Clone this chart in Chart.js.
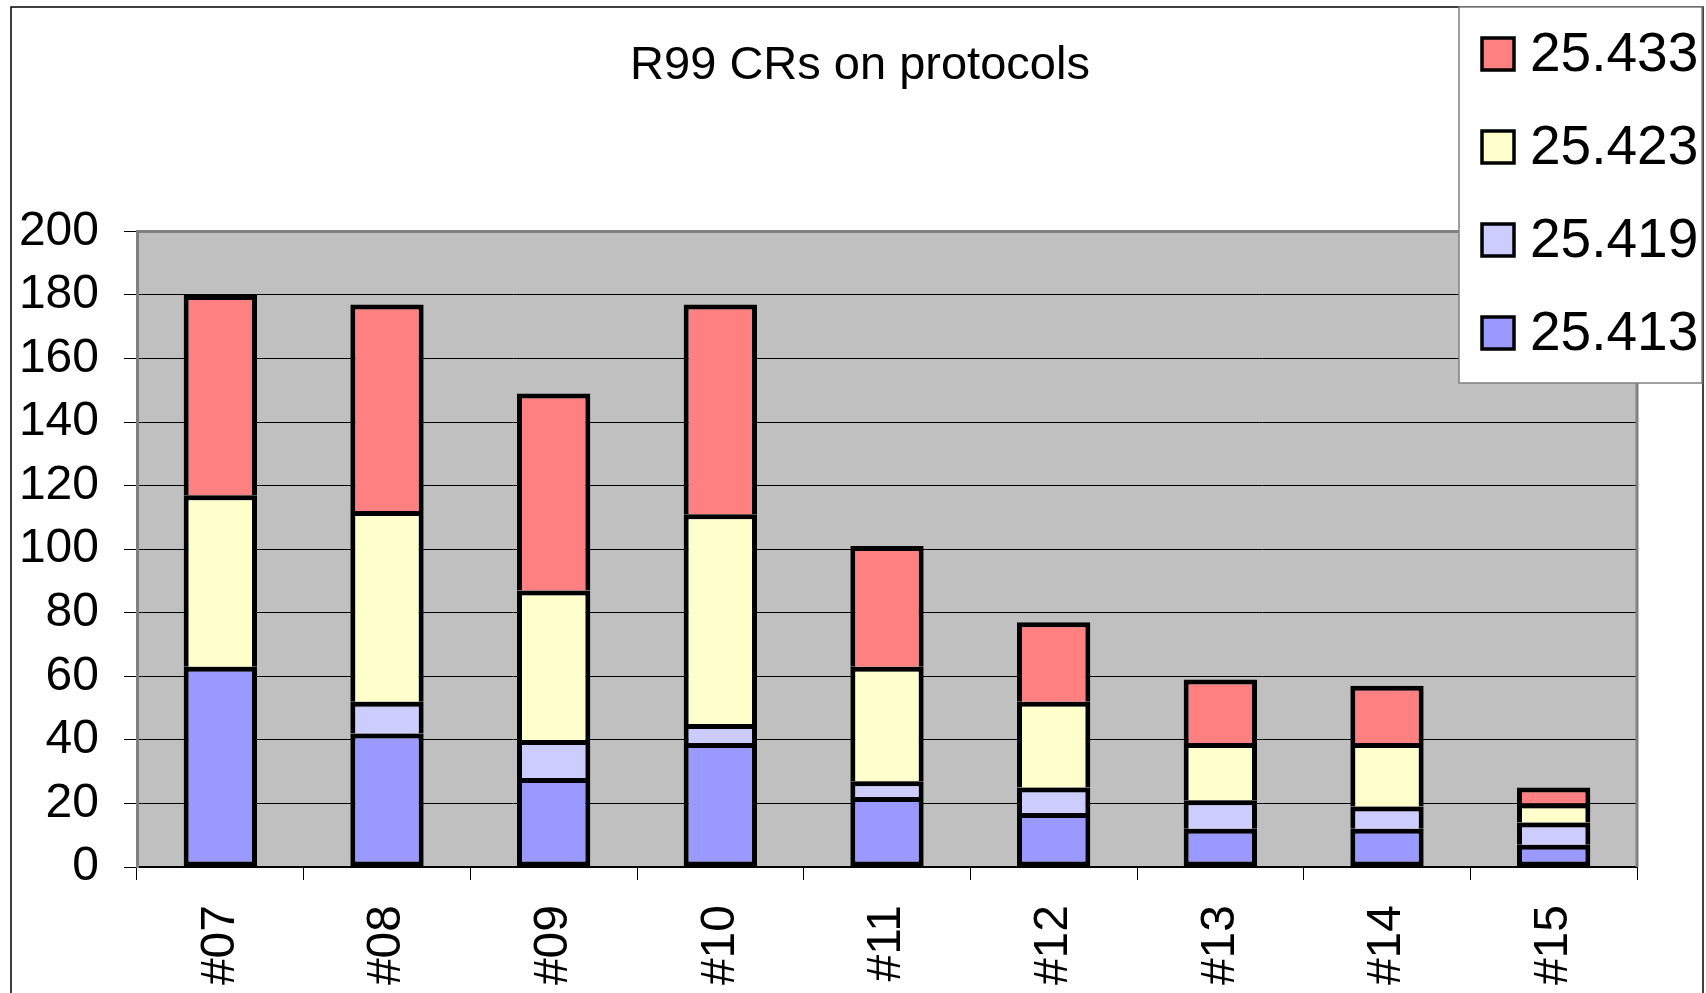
<!DOCTYPE html>
<html>
<head>
  <title>R99 CRs on protocols</title>
  <script src="https://cdn.jsdelivr.net/npm/chart.js@4"></script>
  <style>
    html, body { margin: 0; padding: 0; background: #fff; }
    #wrap { width: 1706px; height: 993px; position: relative; }
  </style>
</head>
<body>
<div id="wrap"><canvas id="chart"></canvas></div>
<script>
  // meetings on the x axis
  const meetings = ['#07', '#08', '#09', '#10', '#11', '#12', '#13', '#14', '#15'];
  // CR counts per spec, bottom of the stack first
  const cr_25413 = [63, 42, 28, 39, 22, 17, 12, 12, 7];
  const cr_25419 = [0, 10, 12, 6, 5, 8, 9, 7, 7];
  const cr_25423 = [54, 60, 47, 66, 36, 27, 18, 20, 6];
  const cr_25433 = [63, 65, 62, 66, 38, 25, 20, 18, 5];
  const yTicks = [0, 20, 40, 60, 80, 100, 120, 140, 160, 180, 200];

  Chart.defaults.font.family = "'Liberation Sans', Arial, sans-serif";
  Chart.defaults.color = '#000';

  const make_dataset = (label, data, color, skip) => ({
    label, data,
    backgroundColor: color,
    borderColor: '#000',
    borderWidth: 5,
    borderSkipped: skip,
    barPercentage: 0.44,
    categoryPercentage: 1.0,
  });

  // white page frame, grey plot area
  const frame = {
    id: 'frame',
    beforeDraw(chart){
      const {ctx, chartArea: a} = chart;
      ctx.save();
      ctx.fillStyle = '#fff';
      ctx.fillRect(0, 0, chart.width, chart.height);
      ctx.strokeStyle = '#000';
      ctx.lineWidth = 1.5;
      ctx.strokeRect(11, 7, 1692, 1000);
      ctx.fillStyle = '#c0c0c0';
      ctx.fillRect(a.left, a.top, a.right - a.left, a.bottom - a.top);
      ctx.restore();
    },
    afterDraw(chart){
      const {ctx, chartArea: a} = chart;
      ctx.save();
      // top and right edge of plot area
      ctx.strokeStyle = '#808080';
      ctx.lineWidth = 3;
      ctx.beginPath();
      ctx.moveTo(a.left, a.top);
      ctx.lineTo(a.right, a.top);
      ctx.lineTo(a.right, a.bottom);
      ctx.stroke();

      // legend box, top item = top of stack
      ctx.fillStyle = '#fff';
      ctx.fillRect(1459, 7, 243, 376);
      ctx.strokeStyle = '#808080';
      ctx.lineWidth = 1.5;
      ctx.strokeRect(1459, 7, 243, 376);
      const items = chart.data.datasets.slice().reverse();
      ctx.font = "55px 'Liberation Sans', Arial, sans-serif";
      ctx.textAlign = 'left';
      ctx.textBaseline = 'alphabetic';
      items.forEach((ds, i) => {
        const cy = 54 + i * 93;
        ctx.fillStyle = ds.backgroundColor;
        ctx.fillRect(1482, cy - 16, 32, 32);
        ctx.strokeStyle = '#000';
        ctx.lineWidth = 3.5;
        ctx.strokeRect(1482, cy - 16, 32, 32);
        ctx.fillStyle = '#000';
        ctx.fillText(ds.label, 1530, cy + 17);
      });
      ctx.restore();
    }
  };

  new Chart(document.getElementById('chart'), {
    type: 'bar',
    data: {
      labels: meetings,
      datasets: [
        make_dataset('25.413', cr_25413, '#9999ff', false),
        make_dataset('25.419', cr_25419, '#ccccff', 'start'),
        make_dataset('25.423', cr_25423, '#ffffcc', 'start'),
        make_dataset('25.433', cr_25433, '#ff8080', 'start'),
      ]
    },
    options: {
      responsive: true,
      maintainAspectRatio: false,
      devicePixelRatio: 1,
      animation: false,
      layout: { padding: { left: 14, top: 0, right: 0, bottom: 0 } },
      plugins: {
        legend: { display: false },
        tooltip: { enabled: false },
        title: {
          display: true,
          text: 'R99 CRs on protocols',
          color: '#000',
          font: { size: 47, weight: 'normal' },
          padding: { top: 38, bottom: 137 }
        }
      },
      scales: {
        x: {
          stacked: true,
          grid: { offset: true, drawOnChartArea: false, drawTicks: true, tickLength: 13, color: '#000', lineWidth: 1 },
          border: { color: '#000', width: 2 },
          ticks: { minRotation: 90, maxRotation: 90, padding: 25, color: '#000', font: { size: 48 } },
          afterFit(s){ s.height = 126; }
        },
        y: {
          stacked: true,
          min: 0, max: 200,
          afterBuildTicks(s){ s.ticks = yTicks.map(v => ({value: v})); },
          ticks: { padding: 25, color: '#000', font: { size: 48 } },
          grid: { color: '#000', lineWidth: 1, tickLength: 13 },
          border: { color: '#808080', width: 3 },
          afterFit(s){ s.width = 123; }
        },
        y2: {
          position: 'right',
          display: true,
          grid: { display: false },
          ticks: { display: false },
          border: { display: false },
          afterFit(s){ s.width = 69; }
        }
      }
    },
    plugins: [frame]
  });
</script>
</body>
</html>
